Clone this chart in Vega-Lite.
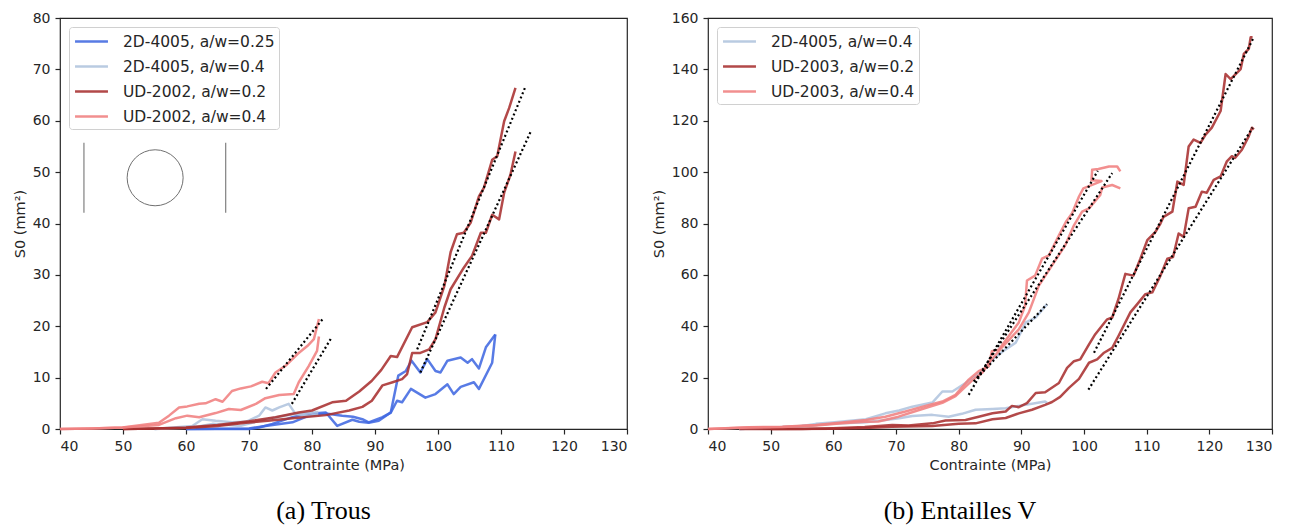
{
  "$schema": "https://vega.github.io/schema/vega-lite/v6.json",
  "padding": {"left": 11, "top": 10, "right": 0, "bottom": 0},
  "background": "white",
  "spacing": 21,
  "datasets": {
    "a": [
      {"s": "2D-4005, a/w=0.25", "c": "a1", "x": 60, "y": 0}, {"s": "2D-4005, a/w=0.25", "c": "a1", "x": 70, "y": 0}, {"s": "2D-4005, a/w=0.25", "c": "a1", "x": 71.6, "y": 0.3}, {"s": "2D-4005, a/w=0.25", "c": "a1", "x": 73.7, "y": 1.0}, {"s": "2D-4005, a/w=0.25", "c": "a1", "x": 76.9, "y": 2.3}, {"s": "2D-4005, a/w=0.25", "c": "a1", "x": 79, "y": 2.9}, {"s": "2D-4005, a/w=0.25", "c": "a1", "x": 82.2, "y": 3.2}, {"s": "2D-4005, a/w=0.25", "c": "a1", "x": 84, "y": 0.6}, {"s": "2D-4005, a/w=0.25", "c": "a1", "x": 86.4, "y": 1.8}, {"s": "2D-4005, a/w=0.25", "c": "a1", "x": 87.5, "y": 1.4}, {"s": "2D-4005, a/w=0.25", "c": "a1", "x": 89, "y": 1.2}, {"s": "2D-4005, a/w=0.25", "c": "a1", "x": 90.6, "y": 1.6}, {"s": "2D-4005, a/w=0.25", "c": "a1", "x": 92.5, "y": 3.2}, {"s": "2D-4005, a/w=0.25", "c": "a1", "x": 93.7, "y": 10.4}, {"s": "2D-4005, a/w=0.25", "c": "a1", "x": 94.9, "y": 11.3}, {"s": "2D-4005, a/w=0.25", "c": "a1", "x": 95.8, "y": 13.3}, {"s": "2D-4005, a/w=0.25", "c": "a1", "x": 97.2, "y": 11}, {"s": "2D-4005, a/w=0.25", "c": "a1", "x": 98.3, "y": 13.6}, {"s": "2D-4005, a/w=0.25", "c": "a1", "x": 99.6, "y": 11.3}, {"s": "2D-4005, a/w=0.25", "c": "a1", "x": 100.4, "y": 11}, {"s": "2D-4005, a/w=0.25", "c": "a1", "x": 101.5, "y": 13.3}, {"s": "2D-4005, a/w=0.25", "c": "a1", "x": 103.6, "y": 13.9}, {"s": "2D-4005, a/w=0.25", "c": "a1", "x": 104.7, "y": 12.9}, {"s": "2D-4005, a/w=0.25", "c": "a1", "x": 105.4, "y": 13.6}, {"s": "2D-4005, a/w=0.25", "c": "a1", "x": 106.5, "y": 11.8}, {"s": "2D-4005, a/w=0.25", "c": "a1", "x": 107.6, "y": 15.9}, {"s": "2D-4005, a/w=0.25", "c": "a1", "x": 109.1, "y": 18.4},
      {"s": "2D-4005, a/w=0.25", "c": "a2", "x": 60, "y": 0}, {"s": "2D-4005, a/w=0.25", "c": "a2", "x": 70, "y": 0.1}, {"s": "2D-4005, a/w=0.25", "c": "a2", "x": 72.6, "y": 0.6}, {"s": "2D-4005, a/w=0.25", "c": "a2", "x": 76.9, "y": 1.3}, {"s": "2D-4005, a/w=0.25", "c": "a2", "x": 79.5, "y": 2.6}, {"s": "2D-4005, a/w=0.25", "c": "a2", "x": 82.2, "y": 3.0}, {"s": "2D-4005, a/w=0.25", "c": "a2", "x": 84.8, "y": 2.6}, {"s": "2D-4005, a/w=0.25", "c": "a2", "x": 86.5, "y": 2.4}, {"s": "2D-4005, a/w=0.25", "c": "a2", "x": 88, "y": 1.9}, {"s": "2D-4005, a/w=0.25", "c": "a2", "x": 89, "y": 1.3}, {"s": "2D-4005, a/w=0.25", "c": "a2", "x": 91.2, "y": 2.3}, {"s": "2D-4005, a/w=0.25", "c": "a2", "x": 92.5, "y": 3.2}, {"s": "2D-4005, a/w=0.25", "c": "a2", "x": 93.5, "y": 5.5}, {"s": "2D-4005, a/w=0.25", "c": "a2", "x": 94.3, "y": 5.2}, {"s": "2D-4005, a/w=0.25", "c": "a2", "x": 95.7, "y": 7.8}, {"s": "2D-4005, a/w=0.25", "c": "a2", "x": 98, "y": 6.1}, {"s": "2D-4005, a/w=0.25", "c": "a2", "x": 99.6, "y": 6.8}, {"s": "2D-4005, a/w=0.25", "c": "a2", "x": 101.5, "y": 8.7}, {"s": "2D-4005, a/w=0.25", "c": "a2", "x": 102.5, "y": 6.8}, {"s": "2D-4005, a/w=0.25", "c": "a2", "x": 103.6, "y": 8.2}, {"s": "2D-4005, a/w=0.25", "c": "a2", "x": 105.7, "y": 9.1}, {"s": "2D-4005, a/w=0.25", "c": "a2", "x": 106.5, "y": 7.8}, {"s": "2D-4005, a/w=0.25", "c": "a2", "x": 108.6, "y": 12.9}, {"s": "2D-4005, a/w=0.25", "c": "a2", "x": 109.1, "y": 18.4},
      {"s": "2D-4005, a/w=0.4", "c": "b1", "x": 55, "y": 0}, {"s": "2D-4005, a/w=0.4", "c": "b1", "x": 61, "y": 0.6}, {"s": "2D-4005, a/w=0.4", "c": "b1", "x": 62.6, "y": 1.9}, {"s": "2D-4005, a/w=0.4", "c": "b1", "x": 64.7, "y": 1.6}, {"s": "2D-4005, a/w=0.4", "c": "b1", "x": 67.3, "y": 1.3}, {"s": "2D-4005, a/w=0.4", "c": "b1", "x": 69.5, "y": 1.4}, {"s": "2D-4005, a/w=0.4", "c": "b1", "x": 71.6, "y": 2.6}, {"s": "2D-4005, a/w=0.4", "c": "b1", "x": 72.6, "y": 4.2}, {"s": "2D-4005, a/w=0.4", "c": "b1", "x": 73.7, "y": 3.6}, {"s": "2D-4005, a/w=0.4", "c": "b1", "x": 74.8, "y": 4.2}, {"s": "2D-4005, a/w=0.4", "c": "b1", "x": 76.3, "y": 4.9}, {"s": "2D-4005, a/w=0.4", "c": "b1", "x": 77.4, "y": 2.9}, {"s": "2D-4005, a/w=0.4", "c": "b1", "x": 79.5, "y": 2.6}, {"s": "2D-4005, a/w=0.4", "c": "b1", "x": 81, "y": 2.8},
      {"s": "2D-4005, a/w=0.4", "c": "b2", "x": 55, "y": 0}, {"s": "2D-4005, a/w=0.4", "c": "b2", "x": 61, "y": 0.3}, {"s": "2D-4005, a/w=0.4", "c": "b2", "x": 64.2, "y": 1.0}, {"s": "2D-4005, a/w=0.4", "c": "b2", "x": 68.7, "y": 0.6}, {"s": "2D-4005, a/w=0.4", "c": "b2", "x": 71.6, "y": 1.6}, {"s": "2D-4005, a/w=0.4", "c": "b2", "x": 74, "y": 2.2}, {"s": "2D-4005, a/w=0.4", "c": "b2", "x": 77.1, "y": 2.9}, {"s": "2D-4005, a/w=0.4", "c": "b2", "x": 79.5, "y": 3.1}, {"s": "2D-4005, a/w=0.4", "c": "b2", "x": 81, "y": 3.3},
      {"s": "UD-2002, a/w=0.2", "c": "c1", "x": 50, "y": 0}, {"s": "UD-2002, a/w=0.2", "c": "c1", "x": 55, "y": 0.1}, {"s": "UD-2002, a/w=0.2", "c": "c1", "x": 60, "y": 0.3}, {"s": "UD-2002, a/w=0.2", "c": "c1", "x": 65, "y": 0.8}, {"s": "UD-2002, a/w=0.2", "c": "c1", "x": 70, "y": 1.5}, {"s": "UD-2002, a/w=0.2", "c": "c1", "x": 74.2, "y": 2.3}, {"s": "UD-2002, a/w=0.2", "c": "c1", "x": 77.9, "y": 3.2}, {"s": "UD-2002, a/w=0.2", "c": "c1", "x": 80, "y": 3.6}, {"s": "UD-2002, a/w=0.2", "c": "c1", "x": 83.2, "y": 5.2}, {"s": "UD-2002, a/w=0.2", "c": "c1", "x": 85.4, "y": 5.5}, {"s": "UD-2002, a/w=0.2", "c": "c1", "x": 87.5, "y": 7.3}, {"s": "UD-2002, a/w=0.2", "c": "c1", "x": 89.5, "y": 9.4}, {"s": "UD-2002, a/w=0.2", "c": "c1", "x": 91, "y": 11.5}, {"s": "UD-2002, a/w=0.2", "c": "c1", "x": 92.5, "y": 14.2}, {"s": "UD-2002, a/w=0.2", "c": "c1", "x": 93.5, "y": 14.0}, {"s": "UD-2002, a/w=0.2", "c": "c1", "x": 95.9, "y": 19.8}, {"s": "UD-2002, a/w=0.2", "c": "c1", "x": 98.3, "y": 20.8}, {"s": "UD-2002, a/w=0.2", "c": "c1", "x": 99.6, "y": 22.7}, {"s": "UD-2002, a/w=0.2", "c": "c1", "x": 101, "y": 27.8}, {"s": "UD-2002, a/w=0.2", "c": "c1", "x": 102, "y": 34.4}, {"s": "UD-2002, a/w=0.2", "c": "c1", "x": 103, "y": 37.9}, {"s": "UD-2002, a/w=0.2", "c": "c1", "x": 104.1, "y": 38.2}, {"s": "UD-2002, a/w=0.2", "c": "c1", "x": 105.2, "y": 40.2}, {"s": "UD-2002, a/w=0.2", "c": "c1", "x": 106.5, "y": 45.3}, {"s": "UD-2002, a/w=0.2", "c": "c1", "x": 107.3, "y": 47.0}, {"s": "UD-2002, a/w=0.2", "c": "c1", "x": 108.6, "y": 52.4}, {"s": "UD-2002, a/w=0.2", "c": "c1", "x": 109.4, "y": 53.1}, {"s": "UD-2002, a/w=0.2", "c": "c1", "x": 110.5, "y": 59.9}, {"s": "UD-2002, a/w=0.2", "c": "c1", "x": 111.3, "y": 62.5}, {"s": "UD-2002, a/w=0.2", "c": "c1", "x": 112.3, "y": 66.4},
      {"s": "UD-2002, a/w=0.2", "c": "c2", "x": 50, "y": 0}, {"s": "UD-2002, a/w=0.2", "c": "c2", "x": 55, "y": 0.1}, {"s": "UD-2002, a/w=0.2", "c": "c2", "x": 60, "y": 0.2}, {"s": "UD-2002, a/w=0.2", "c": "c2", "x": 65, "y": 0.6}, {"s": "UD-2002, a/w=0.2", "c": "c2", "x": 69.5, "y": 1.2}, {"s": "UD-2002, a/w=0.2", "c": "c2", "x": 73, "y": 1.6}, {"s": "UD-2002, a/w=0.2", "c": "c2", "x": 76.9, "y": 2.1}, {"s": "UD-2002, a/w=0.2", "c": "c2", "x": 82.2, "y": 2.7}, {"s": "UD-2002, a/w=0.2", "c": "c2", "x": 85.9, "y": 3.6}, {"s": "UD-2002, a/w=0.2", "c": "c2", "x": 88, "y": 4.3}, {"s": "UD-2002, a/w=0.2", "c": "c2", "x": 89.5, "y": 5.5}, {"s": "UD-2002, a/w=0.2", "c": "c2", "x": 91.2, "y": 8.5}, {"s": "UD-2002, a/w=0.2", "c": "c2", "x": 92.8, "y": 9.1}, {"s": "UD-2002, a/w=0.2", "c": "c2", "x": 94.3, "y": 9.7}, {"s": "UD-2002, a/w=0.2", "c": "c2", "x": 95.1, "y": 10.7}, {"s": "UD-2002, a/w=0.2", "c": "c2", "x": 95.9, "y": 14.8}, {"s": "UD-2002, a/w=0.2", "c": "c2", "x": 97.2, "y": 14.8}, {"s": "UD-2002, a/w=0.2", "c": "c2", "x": 98.6, "y": 15.5}, {"s": "UD-2002, a/w=0.2", "c": "c2", "x": 99.6, "y": 17.5}, {"s": "UD-2002, a/w=0.2", "c": "c2", "x": 101, "y": 23.6}, {"s": "UD-2002, a/w=0.2", "c": "c2", "x": 102, "y": 27.2}, {"s": "UD-2002, a/w=0.2", "c": "c2", "x": 104.1, "y": 31.4}, {"s": "UD-2002, a/w=0.2", "c": "c2", "x": 105.4, "y": 33.7}, {"s": "UD-2002, a/w=0.2", "c": "c2", "x": 106.8, "y": 38.2}, {"s": "UD-2002, a/w=0.2", "c": "c2", "x": 107.6, "y": 38.2}, {"s": "UD-2002, a/w=0.2", "c": "c2", "x": 108.6, "y": 41.7}, {"s": "UD-2002, a/w=0.2", "c": "c2", "x": 109.7, "y": 40.8}, {"s": "UD-2002, a/w=0.2", "c": "c2", "x": 110.5, "y": 46}, {"s": "UD-2002, a/w=0.2", "c": "c2", "x": 111.5, "y": 49.5}, {"s": "UD-2002, a/w=0.2", "c": "c2", "x": 112.3, "y": 54},
      {"s": "UD-2002, a/w=0.4", "c": "d1", "x": 40, "y": 0}, {"s": "UD-2002, a/w=0.4", "c": "d1", "x": 45.1, "y": 0.1}, {"s": "UD-2002, a/w=0.4", "c": "d1", "x": 49.9, "y": 0.3}, {"s": "UD-2002, a/w=0.4", "c": "d1", "x": 55.7, "y": 1.2}, {"s": "UD-2002, a/w=0.4", "c": "d1", "x": 57.3, "y": 2.6}, {"s": "UD-2002, a/w=0.4", "c": "d1", "x": 58.9, "y": 4.2}, {"s": "UD-2002, a/w=0.4", "c": "d1", "x": 60.2, "y": 4.4}, {"s": "UD-2002, a/w=0.4", "c": "d1", "x": 62.1, "y": 4.9}, {"s": "UD-2002, a/w=0.4", "c": "d1", "x": 63.1, "y": 5.0}, {"s": "UD-2002, a/w=0.4", "c": "d1", "x": 64.7, "y": 5.8}, {"s": "UD-2002, a/w=0.4", "c": "d1", "x": 65.8, "y": 5.3}, {"s": "UD-2002, a/w=0.4", "c": "d1", "x": 67.3, "y": 7.4}, {"s": "UD-2002, a/w=0.4", "c": "d1", "x": 68.7, "y": 7.9}, {"s": "UD-2002, a/w=0.4", "c": "d1", "x": 70.3, "y": 8.3}, {"s": "UD-2002, a/w=0.4", "c": "d1", "x": 72.1, "y": 9.2}, {"s": "UD-2002, a/w=0.4", "c": "d1", "x": 73.1, "y": 8.9}, {"s": "UD-2002, a/w=0.4", "c": "d1", "x": 74.2, "y": 11.0}, {"s": "UD-2002, a/w=0.4", "c": "d1", "x": 75.8, "y": 12.3}, {"s": "UD-2002, a/w=0.4", "c": "d1", "x": 77.7, "y": 14.6}, {"s": "UD-2002, a/w=0.4", "c": "d1", "x": 79.3, "y": 16.2}, {"s": "UD-2002, a/w=0.4", "c": "d1", "x": 80.3, "y": 17.5}, {"s": "UD-2002, a/w=0.4", "c": "d1", "x": 81.1, "y": 21.4},
      {"s": "UD-2002, a/w=0.4", "c": "d2", "x": 40, "y": 0}, {"s": "UD-2002, a/w=0.4", "c": "d2", "x": 45, "y": 0.1}, {"s": "UD-2002, a/w=0.4", "c": "d2", "x": 50, "y": 0.3}, {"s": "UD-2002, a/w=0.4", "c": "d2", "x": 55.7, "y": 0.8}, {"s": "UD-2002, a/w=0.4", "c": "d2", "x": 58.4, "y": 2.1}, {"s": "UD-2002, a/w=0.4", "c": "d2", "x": 60.2, "y": 2.6}, {"s": "UD-2002, a/w=0.4", "c": "d2", "x": 62.1, "y": 2.3}, {"s": "UD-2002, a/w=0.4", "c": "d2", "x": 64.7, "y": 3.1}, {"s": "UD-2002, a/w=0.4", "c": "d2", "x": 66.8, "y": 3.9}, {"s": "UD-2002, a/w=0.4", "c": "d2", "x": 68.7, "y": 3.7}, {"s": "UD-2002, a/w=0.4", "c": "d2", "x": 71.1, "y": 4.9}, {"s": "UD-2002, a/w=0.4", "c": "d2", "x": 72.6, "y": 6.0}, {"s": "UD-2002, a/w=0.4", "c": "d2", "x": 74.8, "y": 6.6}, {"s": "UD-2002, a/w=0.4", "c": "d2", "x": 77.1, "y": 6.8}, {"s": "UD-2002, a/w=0.4", "c": "d2", "x": 77.9, "y": 9.1}, {"s": "UD-2002, a/w=0.4", "c": "d2", "x": 79.5, "y": 12.3}, {"s": "UD-2002, a/w=0.4", "c": "d2", "x": 80.8, "y": 15.2}, {"s": "UD-2002, a/w=0.4", "c": "d2", "x": 81.1, "y": 18}
    ],
    "afit": [
      {"f": "f1", "x": 96.7, "y": 15.5}, {"f": "f1", "x": 113.9, "y": 66.7},
      {"f": "f2", "x": 97.2, "y": 11}, {"f": "f2", "x": 114.8, "y": 58.1},
      {"f": "f3", "x": 72.7, "y": 7.8}, {"f": "f3", "x": 81.7, "y": 21.4},
      {"f": "f4", "x": 76.8, "y": 4.9}, {"f": "f4", "x": 83.1, "y": 17.8}
    ],
    "circle": [{"x": 55.1, "y": 48.9}],
    "bars": [{"x": 43.8, "y": 42.1, "y2": 55.7}, {"x": 66.3, "y": 42.1, "y2": 55.7}],
    "b": [
      {"s": "2D-4005, a/w=0.4", "c": "b1", "x": 45, "y": 0}, {"s": "2D-4005, a/w=0.4", "c": "b1", "x": 50, "y": 0.5}, {"s": "2D-4005, a/w=0.4", "c": "b1", "x": 55, "y": 1.2}, {"s": "2D-4005, a/w=0.4", "c": "b1", "x": 57.2, "y": 2.0}, {"s": "2D-4005, a/w=0.4", "c": "b1", "x": 59.8, "y": 2.5}, {"s": "2D-4005, a/w=0.4", "c": "b1", "x": 65.2, "y": 3.8}, {"s": "2D-4005, a/w=0.4", "c": "b1", "x": 68.3, "y": 6.1}, {"s": "2D-4005, a/w=0.4", "c": "b1", "x": 70.5, "y": 7.2}, {"s": "2D-4005, a/w=0.4", "c": "b1", "x": 72.6, "y": 8.7}, {"s": "2D-4005, a/w=0.4", "c": "b1", "x": 75.8, "y": 10.3}, {"s": "2D-4005, a/w=0.4", "c": "b1", "x": 77.4, "y": 14.6}, {"s": "2D-4005, a/w=0.4", "c": "b1", "x": 79, "y": 14.6}, {"s": "2D-4005, a/w=0.4", "c": "b1", "x": 81.1, "y": 17.9}, {"s": "2D-4005, a/w=0.4", "c": "b1", "x": 83.8, "y": 22.5}, {"s": "2D-4005, a/w=0.4", "c": "b1", "x": 85.4, "y": 27.1}, {"s": "2D-4005, a/w=0.4", "c": "b1", "x": 87.5, "y": 31}, {"s": "2D-4005, a/w=0.4", "c": "b1", "x": 89.1, "y": 33.6}, {"s": "2D-4005, a/w=0.4", "c": "b1", "x": 90.7, "y": 41.5}, {"s": "2D-4005, a/w=0.4", "c": "b1", "x": 92.3, "y": 43.4}, {"s": "2D-4005, a/w=0.4", "c": "b1", "x": 94.1, "y": 48.6},
      {"s": "2D-4005, a/w=0.4", "c": "b2", "x": 45, "y": 0}, {"s": "2D-4005, a/w=0.4", "c": "b2", "x": 50, "y": 0.5}, {"s": "2D-4005, a/w=0.4", "c": "b2", "x": 55, "y": 1.2}, {"s": "2D-4005, a/w=0.4", "c": "b2", "x": 59.8, "y": 2.0}, {"s": "2D-4005, a/w=0.4", "c": "b2", "x": 65.2, "y": 2.6}, {"s": "2D-4005, a/w=0.4", "c": "b2", "x": 68.3, "y": 3.5}, {"s": "2D-4005, a/w=0.4", "c": "b2", "x": 70.5, "y": 4.2}, {"s": "2D-4005, a/w=0.4", "c": "b2", "x": 72.6, "y": 5.1}, {"s": "2D-4005, a/w=0.4", "c": "b2", "x": 75.8, "y": 5.5}, {"s": "2D-4005, a/w=0.4", "c": "b2", "x": 78.4, "y": 4.8}, {"s": "2D-4005, a/w=0.4", "c": "b2", "x": 80.5, "y": 5.9}, {"s": "2D-4005, a/w=0.4", "c": "b2", "x": 82.7, "y": 7.5}, {"s": "2D-4005, a/w=0.4", "c": "b2", "x": 85.4, "y": 7.8}, {"s": "2D-4005, a/w=0.4", "c": "b2", "x": 87.5, "y": 8.1}, {"s": "2D-4005, a/w=0.4", "c": "b2", "x": 89.6, "y": 9.0}, {"s": "2D-4005, a/w=0.4", "c": "b2", "x": 91.7, "y": 9.8}, {"s": "2D-4005, a/w=0.4", "c": "b2", "x": 93.8, "y": 10.7}, {"s": "2D-4005, a/w=0.4", "c": "b2", "x": 94.1, "y": 10.1},
      {"s": "UD-2003, a/w=0.2", "c": "c1", "x": 45, "y": 0}, {"s": "UD-2003, a/w=0.2", "c": "c1", "x": 55, "y": 0}, {"s": "UD-2003, a/w=0.2", "c": "c1", "x": 60, "y": 0.3}, {"s": "UD-2003, a/w=0.2", "c": "c1", "x": 65, "y": 0.8}, {"s": "UD-2003, a/w=0.2", "c": "c1", "x": 69.4, "y": 1.6}, {"s": "UD-2003, a/w=0.2", "c": "c1", "x": 72, "y": 1.4}, {"s": "UD-2003, a/w=0.2", "c": "c1", "x": 75.8, "y": 2.2}, {"s": "UD-2003, a/w=0.2", "c": "c1", "x": 77.9, "y": 3.3}, {"s": "UD-2003, a/w=0.2", "c": "c1", "x": 81.1, "y": 3.5}, {"s": "UD-2003, a/w=0.2", "c": "c1", "x": 83.2, "y": 4.8}, {"s": "UD-2003, a/w=0.2", "c": "c1", "x": 85.4, "y": 6.1}, {"s": "UD-2003, a/w=0.2", "c": "c1", "x": 87.5, "y": 6.8}, {"s": "UD-2003, a/w=0.2", "c": "c1", "x": 88.5, "y": 9.0}, {"s": "UD-2003, a/w=0.2", "c": "c1", "x": 89.6, "y": 8.5}, {"s": "UD-2003, a/w=0.2", "c": "c1", "x": 90.9, "y": 10.1}, {"s": "UD-2003, a/w=0.2", "c": "c1", "x": 92.3, "y": 14}, {"s": "UD-2003, a/w=0.2", "c": "c1", "x": 93.8, "y": 14.3}, {"s": "UD-2003, a/w=0.2", "c": "c1", "x": 96, "y": 17.9}, {"s": "UD-2003, a/w=0.2", "c": "c1", "x": 97.3, "y": 23.8}, {"s": "UD-2003, a/w=0.2", "c": "c1", "x": 98.4, "y": 26.4}, {"s": "UD-2003, a/w=0.2", "c": "c1", "x": 99.4, "y": 27.1}, {"s": "UD-2003, a/w=0.2", "c": "c1", "x": 100.8, "y": 32.9}, {"s": "UD-2003, a/w=0.2", "c": "c1", "x": 101.8, "y": 36.9}, {"s": "UD-2003, a/w=0.2", "c": "c1", "x": 103.7, "y": 42.7}, {"s": "UD-2003, a/w=0.2", "c": "c1", "x": 104.5, "y": 43.4}, {"s": "UD-2003, a/w=0.2", "c": "c1", "x": 105.5, "y": 50.6}, {"s": "UD-2003, a/w=0.2", "c": "c1", "x": 106.6, "y": 60.4}, {"s": "UD-2003, a/w=0.2", "c": "c1", "x": 107.9, "y": 59.7}, {"s": "UD-2003, a/w=0.2", "c": "c1", "x": 109, "y": 66.3}, {"s": "UD-2003, a/w=0.2", "c": "c1", "x": 110.1, "y": 73.5}, {"s": "UD-2003, a/w=0.2", "c": "c1", "x": 111.4, "y": 76.7}, {"s": "UD-2003, a/w=0.2", "c": "c1", "x": 112.2, "y": 80}, {"s": "UD-2003, a/w=0.2", "c": "c1", "x": 112.7, "y": 82.6}, {"s": "UD-2003, a/w=0.2", "c": "c1", "x": 114.1, "y": 84.6}, {"s": "UD-2003, a/w=0.2", "c": "c1", "x": 114.9, "y": 96.3}, {"s": "UD-2003, a/w=0.2", "c": "c1", "x": 115.9, "y": 95}, {"s": "UD-2003, a/w=0.2", "c": "c1", "x": 116.7, "y": 110}, {"s": "UD-2003, a/w=0.2", "c": "c1", "x": 117.5, "y": 112.7}, {"s": "UD-2003, a/w=0.2", "c": "c1", "x": 118.6, "y": 111.4}, {"s": "UD-2003, a/w=0.2", "c": "c1", "x": 119.4, "y": 114.6}, {"s": "UD-2003, a/w=0.2", "c": "c1", "x": 120.4, "y": 117.3}, {"s": "UD-2003, a/w=0.2", "c": "c1", "x": 121.8, "y": 123.8}, {"s": "UD-2003, a/w=0.2", "c": "c1", "x": 122.6, "y": 138.2}, {"s": "UD-2003, a/w=0.2", "c": "c1", "x": 123.4, "y": 136.2}, {"s": "UD-2003, a/w=0.2", "c": "c1", "x": 125, "y": 140.1}, {"s": "UD-2003, a/w=0.2", "c": "c1", "x": 125.5, "y": 146}, {"s": "UD-2003, a/w=0.2", "c": "c1", "x": 126.3, "y": 148}, {"s": "UD-2003, a/w=0.2", "c": "c1", "x": 126.6, "y": 152.5}, {"s": "UD-2003, a/w=0.2", "c": "c1", "x": 126.9, "y": 152.5},
      {"s": "UD-2003, a/w=0.2", "c": "c2", "x": 50, "y": 0}, {"s": "UD-2003, a/w=0.2", "c": "c2", "x": 60, "y": 0.1}, {"s": "UD-2003, a/w=0.2", "c": "c2", "x": 65, "y": 0.4}, {"s": "UD-2003, a/w=0.2", "c": "c2", "x": 69.3, "y": 0.9}, {"s": "UD-2003, a/w=0.2", "c": "c2", "x": 75.8, "y": 1.2}, {"s": "UD-2003, a/w=0.2", "c": "c2", "x": 80, "y": 2.0}, {"s": "UD-2003, a/w=0.2", "c": "c2", "x": 82.7, "y": 2.2}, {"s": "UD-2003, a/w=0.2", "c": "c2", "x": 85.4, "y": 3.8}, {"s": "UD-2003, a/w=0.2", "c": "c2", "x": 87.5, "y": 4.3}, {"s": "UD-2003, a/w=0.2", "c": "c2", "x": 89.6, "y": 6.1}, {"s": "UD-2003, a/w=0.2", "c": "c2", "x": 91.7, "y": 7.5}, {"s": "UD-2003, a/w=0.2", "c": "c2", "x": 93.8, "y": 9.4}, {"s": "UD-2003, a/w=0.2", "c": "c2", "x": 94.9, "y": 10.5}, {"s": "UD-2003, a/w=0.2", "c": "c2", "x": 96.2, "y": 12.5}, {"s": "UD-2003, a/w=0.2", "c": "c2", "x": 97.6, "y": 16}, {"s": "UD-2003, a/w=0.2", "c": "c2", "x": 99.2, "y": 19.5}, {"s": "UD-2003, a/w=0.2", "c": "c2", "x": 100.8, "y": 25.8}, {"s": "UD-2003, a/w=0.2", "c": "c2", "x": 102.1, "y": 27.1}, {"s": "UD-2003, a/w=0.2", "c": "c2", "x": 103.2, "y": 29.7}, {"s": "UD-2003, a/w=0.2", "c": "c2", "x": 104.5, "y": 31.6}, {"s": "UD-2003, a/w=0.2", "c": "c2", "x": 105.5, "y": 36.2}, {"s": "UD-2003, a/w=0.2", "c": "c2", "x": 107.4, "y": 45.4}, {"s": "UD-2003, a/w=0.2", "c": "c2", "x": 108.5, "y": 48.6}, {"s": "UD-2003, a/w=0.2", "c": "c2", "x": 109.8, "y": 52.5}, {"s": "UD-2003, a/w=0.2", "c": "c2", "x": 110.9, "y": 53.2}, {"s": "UD-2003, a/w=0.2", "c": "c2", "x": 112.2, "y": 59.7}, {"s": "UD-2003, a/w=0.2", "c": "c2", "x": 113.3, "y": 66.3}, {"s": "UD-2003, a/w=0.2", "c": "c2", "x": 114.2, "y": 66.9}, {"s": "UD-2003, a/w=0.2", "c": "c2", "x": 115.1, "y": 76.1}, {"s": "UD-2003, a/w=0.2", "c": "c2", "x": 115.9, "y": 74.8}, {"s": "UD-2003, a/w=0.2", "c": "c2", "x": 116.7, "y": 85.9}, {"s": "UD-2003, a/w=0.2", "c": "c2", "x": 117.8, "y": 86.5}, {"s": "UD-2003, a/w=0.2", "c": "c2", "x": 118.8, "y": 92.4}, {"s": "UD-2003, a/w=0.2", "c": "c2", "x": 119.6, "y": 92}, {"s": "UD-2003, a/w=0.2", "c": "c2", "x": 120.7, "y": 97}, {"s": "UD-2003, a/w=0.2", "c": "c2", "x": 121.8, "y": 98.3}, {"s": "UD-2003, a/w=0.2", "c": "c2", "x": 122.8, "y": 104.2}, {"s": "UD-2003, a/w=0.2", "c": "c2", "x": 123.6, "y": 106.2}, {"s": "UD-2003, a/w=0.2", "c": "c2", "x": 124.1, "y": 105.5}, {"s": "UD-2003, a/w=0.2", "c": "c2", "x": 125.2, "y": 108.7}, {"s": "UD-2003, a/w=0.2", "c": "c2", "x": 126.3, "y": 114}, {"s": "UD-2003, a/w=0.2", "c": "c2", "x": 126.8, "y": 117.3}, {"s": "UD-2003, a/w=0.2", "c": "c2", "x": 127.1, "y": 116.6},
      {"s": "UD-2003, a/w=0.4", "c": "d1", "x": 40, "y": 0}, {"s": "UD-2003, a/w=0.4", "c": "d1", "x": 46.5, "y": 0.7}, {"s": "UD-2003, a/w=0.4", "c": "d1", "x": 51.9, "y": 0.9}, {"s": "UD-2003, a/w=0.4", "c": "d1", "x": 57.2, "y": 1.6}, {"s": "UD-2003, a/w=0.4", "c": "d1", "x": 61.4, "y": 2.5}, {"s": "UD-2003, a/w=0.4", "c": "d1", "x": 65.2, "y": 3.5}, {"s": "UD-2003, a/w=0.4", "c": "d1", "x": 68.3, "y": 4.8}, {"s": "UD-2003, a/w=0.4", "c": "d1", "x": 71.5, "y": 6.8}, {"s": "UD-2003, a/w=0.4", "c": "d1", "x": 74.7, "y": 9.0}, {"s": "UD-2003, a/w=0.4", "c": "d1", "x": 77.4, "y": 10.7}, {"s": "UD-2003, a/w=0.4", "c": "d1", "x": 79.5, "y": 13.3}, {"s": "UD-2003, a/w=0.4", "c": "d1", "x": 81.6, "y": 19.2}, {"s": "UD-2003, a/w=0.4", "c": "d1", "x": 83.2, "y": 22.5}, {"s": "UD-2003, a/w=0.4", "c": "d1", "x": 84.8, "y": 24.4}, {"s": "UD-2003, a/w=0.4", "c": "d1", "x": 85.3, "y": 30.3}, {"s": "UD-2003, a/w=0.4", "c": "d1", "x": 86.4, "y": 30.9}, {"s": "UD-2003, a/w=0.4", "c": "d1", "x": 88, "y": 36.2}, {"s": "UD-2003, a/w=0.4", "c": "d1", "x": 89.6, "y": 41.5}, {"s": "UD-2003, a/w=0.4", "c": "d1", "x": 90.6, "y": 48}, {"s": "UD-2003, a/w=0.4", "c": "d1", "x": 90.9, "y": 57.8}, {"s": "UD-2003, a/w=0.4", "c": "d1", "x": 92.2, "y": 59.7}, {"s": "UD-2003, a/w=0.4", "c": "d1", "x": 93.3, "y": 66.3}, {"s": "UD-2003, a/w=0.4", "c": "d1", "x": 94.4, "y": 67.6}, {"s": "UD-2003, a/w=0.4", "c": "d1", "x": 96, "y": 75.4}, {"s": "UD-2003, a/w=0.4", "c": "d1", "x": 97.1, "y": 80.6}, {"s": "UD-2003, a/w=0.4", "c": "d1", "x": 98.1, "y": 84}, {"s": "UD-2003, a/w=0.4", "c": "d1", "x": 99.2, "y": 90.5}, {"s": "UD-2003, a/w=0.4", "c": "d1", "x": 99.9, "y": 93.7}, {"s": "UD-2003, a/w=0.4", "c": "d1", "x": 102.8, "y": 96.5}, {"s": "UD-2003, a/w=0.4", "c": "d1", "x": 101.2, "y": 96.8}, {"s": "UD-2003, a/w=0.4", "c": "d1", "x": 101.3, "y": 100.9}, {"s": "UD-2003, a/w=0.4", "c": "d1", "x": 102.3, "y": 101.2}, {"s": "UD-2003, a/w=0.4", "c": "d1", "x": 104, "y": 102.2}, {"s": "UD-2003, a/w=0.4", "c": "d1", "x": 105.3, "y": 102.2}, {"s": "UD-2003, a/w=0.4", "c": "d1", "x": 105.8, "y": 100.3},
      {"s": "UD-2003, a/w=0.4", "c": "d2", "x": 40, "y": 0}, {"s": "UD-2003, a/w=0.4", "c": "d2", "x": 46.5, "y": 0.6}, {"s": "UD-2003, a/w=0.4", "c": "d2", "x": 51.9, "y": 0.8}, {"s": "UD-2003, a/w=0.4", "c": "d2", "x": 57.2, "y": 1.4}, {"s": "UD-2003, a/w=0.4", "c": "d2", "x": 61.4, "y": 2.2}, {"s": "UD-2003, a/w=0.4", "c": "d2", "x": 65.2, "y": 2.8}, {"s": "UD-2003, a/w=0.4", "c": "d2", "x": 67.2, "y": 2.9}, {"s": "UD-2003, a/w=0.4", "c": "d2", "x": 70.4, "y": 4.8}, {"s": "UD-2003, a/w=0.4", "c": "d2", "x": 74.7, "y": 8.2}, {"s": "UD-2003, a/w=0.4", "c": "d2", "x": 77.4, "y": 10.2}, {"s": "UD-2003, a/w=0.4", "c": "d2", "x": 79.5, "y": 12.8}, {"s": "UD-2003, a/w=0.4", "c": "d2", "x": 81.1, "y": 16.5}, {"s": "UD-2003, a/w=0.4", "c": "d2", "x": 82.2, "y": 19}, {"s": "UD-2003, a/w=0.4", "c": "d2", "x": 83.8, "y": 22}, {"s": "UD-2003, a/w=0.4", "c": "d2", "x": 84.8, "y": 25.7}, {"s": "UD-2003, a/w=0.4", "c": "d2", "x": 87, "y": 32}, {"s": "UD-2003, a/w=0.4", "c": "d2", "x": 89.6, "y": 38.8}, {"s": "UD-2003, a/w=0.4", "c": "d2", "x": 91.2, "y": 45.4}, {"s": "UD-2003, a/w=0.4", "c": "d2", "x": 92.8, "y": 55.8}, {"s": "UD-2003, a/w=0.4", "c": "d2", "x": 94.9, "y": 63.7}, {"s": "UD-2003, a/w=0.4", "c": "d2", "x": 97, "y": 71.5}, {"s": "UD-2003, a/w=0.4", "c": "d2", "x": 98.4, "y": 79.3}, {"s": "UD-2003, a/w=0.4", "c": "d2", "x": 99.7, "y": 84.6}, {"s": "UD-2003, a/w=0.4", "c": "d2", "x": 100.8, "y": 85.9}, {"s": "UD-2003, a/w=0.4", "c": "d2", "x": 102.6, "y": 91.1}, {"s": "UD-2003, a/w=0.4", "c": "d2", "x": 102.9, "y": 94}, {"s": "UD-2003, a/w=0.4", "c": "d2", "x": 104.5, "y": 95}, {"s": "UD-2003, a/w=0.4", "c": "d2", "x": 105.8, "y": 93.7}
    ],
    "bfit": [
      {"f": "f1", "x": 81.6, "y": 13.3}, {"f": "f1", "x": 102.2, "y": 100.5},
      {"f": "f2", "x": 83, "y": 20}, {"f": "f2", "x": 104.5, "y": 99.6},
      {"f": "f3", "x": 82.4, "y": 18.5}, {"f": "f3", "x": 94.1, "y": 48.6},
      {"f": "f4", "x": 101.6, "y": 29.7}, {"f": "f4", "x": 127.1, "y": 152.5},
      {"f": "f5", "x": 100.7, "y": 15.3}, {"f": "f5", "x": 126.9, "y": 117.3}
    ]
  },
  "hconcat": [
    {
      "width": 567,
      "height": 411,
      "title": {"text": "(a) Trous", "dx": -20},
      "encoding": {
        "x": {"field": "x", "type": "quantitative", "scale": {"domain": [40, 130], "nice": false, "zero": false}, "axis": {"values": [40, 50, 60, 70, 80, 90, 100, 110, 120, 130], "title": "Contrainte (MPa)"}},
        "y": {"field": "y", "type": "quantitative", "scale": {"domain": [0, 80], "nice": false}, "axis": {"values": [0, 10, 20, 30, 40, 50, 60, 70, 80], "title": "S0 (mm²)"}}
      },
      "layer": [
        {"data": {"name": "bars"}, "mark": {"type": "rule", "color": "#808080", "strokeWidth": 1.2}, "encoding": {"y2": {"field": "y2"}}},
        {"data": {"name": "circle"}, "mark": {"type": "point", "shape": "circle", "filled": false, "size": 3136, "stroke": "#707070", "strokeWidth": 1, "opacity": 1}},
        {
          "data": {"name": "a"},
          "mark": {"type": "line", "strokeWidth": 2.5, "opacity": 0.88, "strokeJoin": "round"},
          "encoding": {
            "color": {"field": "s", "type": "nominal", "scale": {"domain": ["2D-4005, a/w=0.25", "2D-4005, a/w=0.4", "UD-2002, a/w=0.2", "UD-2002, a/w=0.4"], "range": ["#4169e1", "#b0c4de", "#a83030", "#f08080"]}, "legend": {"title": null}},
            "detail": {"field": "c"},
            "order": {"value": null}
          }
        },
        {
          "data": {"name": "afit"},
          "mark": {"type": "line", "color": "black", "strokeWidth": 2.2, "strokeDash": [2, 2.6]},
          "encoding": {"detail": {"field": "f"}}
        }
      ]
    },
    {
      "width": 564,
      "height": 411,
      "title": {"text": "(b) Entailles V", "dx": -30},
      "encoding": {
        "x": {"field": "x", "type": "quantitative", "scale": {"domain": [40, 130], "nice": false, "zero": false}, "axis": {"values": [40, 50, 60, 70, 80, 90, 100, 110, 120, 130], "title": "Contrainte (MPa)"}},
        "y": {"field": "y", "type": "quantitative", "scale": {"domain": [0, 160], "nice": false}, "axis": {"values": [0, 20, 40, 60, 80, 100, 120, 140, 160], "title": "S0 (mm²)"}}
      },
      "layer": [
        {
          "data": {"name": "b"},
          "mark": {"type": "line", "strokeWidth": 2.5, "opacity": 0.88, "strokeJoin": "round"},
          "encoding": {
            "color": {"field": "s", "type": "nominal", "scale": {"domain": ["2D-4005, a/w=0.4", "UD-2003, a/w=0.2", "UD-2003, a/w=0.4"], "range": ["#b0c4de", "#a83030", "#f08080"]}, "legend": {"title": null}},
            "detail": {"field": "c"},
            "order": {"value": null}
          }
        },
        {
          "data": {"name": "bfit"},
          "mark": {"type": "line", "color": "black", "strokeWidth": 2.2, "strokeDash": [2, 2.6]},
          "encoding": {"detail": {"field": "f"}}
        }
      ]
    }
  ],
  "resolve": {"scale": {"color": "independent", "x": "independent", "y": "independent"}, "legend": {"color": "independent"}},
  "config": {
    "font": "DejaVu Sans",
    "view": {"stroke": "#262626", "strokeWidth": 1.2},
    "axis": {"grid": false, "domain": false, "tickColor": "#262626", "tickSize": 5, "tickWidth": 1.2, "labelFontSize": 14, "labelColor": "#262626", "labelPadding": 5, "titleFontSize": 14.5, "titleFontWeight": "normal", "titleColor": "#262626", "titlePadding": 5},
    "legend": {"orient": "top-left", "offset": 9, "symbolType": "M-1.83,0H1.83", "symbolSize": 324, "symbolStrokeWidth": 2.5, "symbolOffset": 8, "labelFontSize": 15.5, "labelColor": "#262626", "labelOffset": 21, "fillColor": "white", "strokeColor": "#d0d0d0", "cornerRadius": 3, "padding": 4, "rowPadding": 6},
    "title": {"orient": "bottom", "anchor": "middle", "font": "Liberation Serif", "fontSize": 26, "fontWeight": "normal", "color": "black", "offset": 26}
  }
}
